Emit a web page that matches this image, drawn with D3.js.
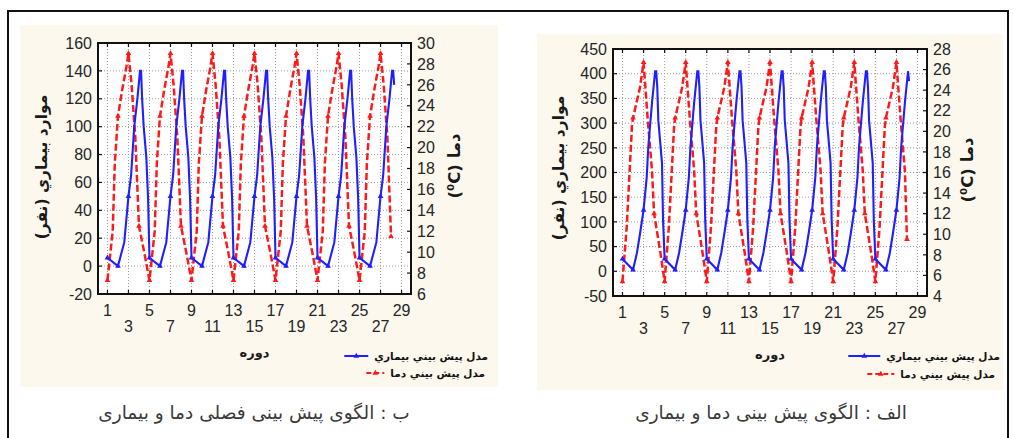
<!DOCTYPE html>
<html><head><meta charset="utf-8">
<script src="https://cdn.jsdelivr.net/npm/d3@7"></script>
<style>body{margin:0;background:#fff}svg{display:block}</style>
</head><body>
<svg id="c" width="1014" height="438"></svg>
<script>
// ---------- tick labels ----------
const xTicks = [1,3,5,7,9,11,13,15,17,19,21,23,25,27,29];
const yLeftTicksB = [-20,0,20,40,60,80,100,120,140,160];
const yRightTicksB = [6,8,10,12,14,16,18,20,22,24,26,28,30];
const yLeftTicksA = [-50,0,50,100,150,200,250,300,350,400,450];
const yRightTicksA = [4,6,8,10,12,14,16,18,20,22,24,26,28];

// ---------- texts ----------
const yLabelLeft = "موارد بيماري (نفر)";
const yLabelRight = "دما (⁰C)";
const xLabel = "دوره";
const legendDisease = "مدل پيش بيني بيماري";
const legendTemp = "مدل پيش بيني دما";
const captionB = "ب : الگوی پیش بینی فصلی دما و بیماری";
const captionA = "الف : الگوی پیش بینی دما و بیماری";

// ---------- chart ب (left): seasonal model ----------
const diseaseXB = [
 1,2,2.6,3,3.25,3.55,3.85,4.1,4.2,4.3,4.45,4.7,4.87,
 5,6,6.6,7,7.25,7.55,7.85,8.1,8.2,8.3,8.45,8.7,8.87,
 9,10,10.6,11,11.25,11.55,11.85,12.1,12.2,12.3,12.45,12.7,12.87,
 13,14,14.6,15,15.25,15.55,15.85,16.1,16.2,16.3,16.45,16.7,16.87,
 17,18,18.6,19,19.25,19.55,19.85,20.1,20.2,20.3,20.45,20.7,20.87,
 21,22,22.6,23,23.25,23.55,23.85,24.1,24.2,24.3,24.45,24.7,24.87,
 25,26,26.6,27,27.25,27.55,27.85,28.1,28.2,28.3];
const diseaseB = [
 6,0,17,50,65,100,120,140,140,120,100,78,48,
 6,0,17,50,65,100,120,140,140,120,100,78,48,
 6,0,17,50,65,100,120,140,140,120,100,78,48,
 6,0,17,50,65,100,120,140,140,120,100,78,48,
 6,0,17,50,65,100,120,140,140,120,100,78,48,
 6,0,17,50,65,100,120,140,140,120,100,78,48,
 6,0,17,50,65,100,120,140,140,130];
const tempXB = [
 1,1.5,1.7,2,2.4,2.8,3,3.3,3.65,4,4.5,
 5,5.5,5.7,6,6.4,6.8,7,7.3,7.65,8,8.5,
 9,9.5,9.7,10,10.4,10.8,11,11.3,11.65,12,12.5,
 13,13.5,13.7,14,14.4,14.8,15,15.3,15.65,16,16.5,
 17,17.5,17.7,18,18.4,18.8,19,19.3,19.65,20,20.5,
 21,21.5,21.7,22,22.4,22.8,23,23.3,23.65,24,24.5,
 25,25.5,25.7,26,26.4,26.8,27,27.3,27.65,28];
const tempB = [
 7.3,12,18.5,23,25.5,27.7,29,26,21,12.5,10,
 7.3,12,18.5,23,25.5,27.7,29,26,21,12.5,10,
 7.3,12,18.5,23,25.5,27.7,29,26,21,12.5,10,
 7.3,12,18.5,23,25.5,27.7,29,26,21,12.5,10,
 7.3,12,18.5,23,25.5,27.7,29,26,21,12.5,10,
 7.3,12,18.5,23,25.5,27.7,29,26,21,12.5,10,
 7.3,12,18.5,23,25.5,27.7,29,26,21,11.5];

// ---------- chart الف (right) ----------
const diseaseXA = [
 1,2,2.37,2.67,3,3.3,3.45,3.8,4.1,4.2,4.3,4.4,4.75,4.85,
 5,6,6.37,6.67,7,7.3,7.45,7.8,8.1,8.2,8.3,8.4,8.75,8.85,
 9,10,10.37,10.67,11,11.3,11.45,11.8,12.1,12.2,12.3,12.4,12.75,12.85,
 13,14,14.37,14.67,15,15.3,15.45,15.8,16.1,16.2,16.3,16.4,16.75,16.85,
 17,18,18.37,18.67,19,19.3,19.45,19.8,20.1,20.2,20.3,20.4,20.75,20.85,
 21,22,22.37,22.67,23,23.3,23.45,23.8,24.1,24.2,24.3,24.4,24.75,24.85,
 25,26,26.37,26.67,27,27.3,27.45,27.8,28.1,28.2];
const diseaseA = [
 25,3,37,77,124,190,252,341,405,405,373,306,219,104,
 25,3,37,77,124,190,252,341,405,405,373,306,219,104,
 25,3,37,77,124,190,252,341,405,405,373,306,219,104,
 25,3,37,77,124,190,252,341,405,405,373,306,219,104,
 25,3,37,77,124,190,252,341,405,405,373,306,219,104,
 25,3,37,77,124,190,252,341,405,405,373,306,219,104,
 25,3,37,77,124,190,252,341,405,385];
const tempXA = [
 1,1.4,1.9,2,2.67,3,3.4,3.8,4,4.6,
 5,5.4,5.9,6,6.67,7,7.4,7.8,8,8.6,
 9,9.4,9.9,10,10.67,11,11.4,11.8,12,12.6,
 13,13.4,13.9,14,14.67,15,15.4,15.8,16,16.6,
 17,17.4,17.9,18,18.67,19,19.4,19.8,20,20.6,
 21,21.4,21.9,22,22.67,23,23.4,23.8,24,24.6,
 25,25.4,25.9,26,26.67,27,27.4,27.8,28];
const tempA = [
 5.4,10.7,20.5,21.3,24.3,26.7,21.1,16.2,12,8.2,
 5.4,10.7,20.5,21.3,24.3,26.7,21.1,16.2,12,8.2,
 5.4,10.7,20.5,21.3,24.3,26.7,21.1,16.2,12,8.2,
 5.4,10.7,20.5,21.3,24.3,26.7,21.1,16.2,12,8.2,
 5.4,10.7,20.5,21.3,24.3,26.7,21.1,16.2,12,8.2,
 5.4,10.7,20.5,21.3,24.3,26.7,21.1,16.2,12,8.2,
 5.4,10.7,20.5,21.3,24.3,26.7,21.1,16.2,9.5];

const BLUE = "#1f1fff", RED = "#ff1a1a", CREAM = "#fcf8ee";
const svg = d3.select("#c");
const NUMFONT = "'Liberation Sans', Arial, sans-serif";
const ARFONT = "'DejaVu Sans', sans-serif";

function textWidth(sel){ return sel.node().getComputedTextLength(); }

function drawChart(c){
  const g = svg.append("g");
  g.append("rect").attr("x",c.panel[0]).attr("y",c.panel[1])
    .attr("width",c.panel[2]-c.panel[0]).attr("height",c.panel[3]-c.panel[1]).attr("fill",CREAM);
  const x = d3.scaleLinear().domain([0.1,29.9]).range([c.left,c.right]);
  const yL = d3.scaleLinear().domain(c.yLDomain).range([c.bottom,c.top]);
  const yR = d3.scaleLinear().domain(c.yRDomain).range([c.bottom,c.top]);
  g.append("rect").attr("x",c.left).attr("y",c.top).attr("width",c.right-c.left)
    .attr("height",c.bottom-c.top).attr("fill","#fff");
  // grid
  g.append("g").selectAll("line").data(c.yLTicks.slice(1,-1)).join("line")
    .attr("x1",c.left).attr("x2",c.right).attr("y1",d=>yL(d)).attr("y2",d=>yL(d))
    .attr("stroke","#9a9a9a").attr("stroke-width",1).attr("stroke-dasharray","1,2");
  g.append("g").selectAll("line").data(xTicks).join("line")
    .attr("y1",c.top).attr("y2",c.bottom).attr("x1",d=>x(d)).attr("x2",d=>x(d))
    .attr("stroke","#9a9a9a").attr("stroke-width",1).attr("stroke-dasharray","1,2");
  // series
  const dis = c.disX.map((v,i)=>[v,c.dis[i]]);
  const tmp = c.tmpX.map((v,i)=>[v,c.tmp[i]]);
  g.append("path").datum(tmp).attr("fill","none").attr("stroke",RED).attr("stroke-width",2.5)
    .attr("stroke-dasharray","7,3")
    .attr("d",d3.line().x(d=>x(d[0])).y(d=>yR(d[1])));
  g.append("path").datum(dis).attr("fill","none").attr("stroke",BLUE).attr("stroke-width",2.1)
    .attr("d",d3.line().x(d=>x(d[0])).y(d=>yL(d[1])));
  const tri = d3.symbol().type(d3.symbolTriangle).size(14);
  g.append("g").selectAll("path").data(tmp.filter(d=>Number.isInteger(d[0]))).join("path")
    .attr("d",tri).attr("transform",d=>`translate(${x(d[0])},${yR(d[1])})`).attr("fill",RED);
  g.append("g").selectAll("path").data(dis.filter(d=>Number.isInteger(d[0]))).join("path")
    .attr("d",tri).attr("transform",d=>`translate(${x(d[0])},${yL(d[1])})`).attr("fill",BLUE);
  // frame
  g.append("rect").attr("x",c.left).attr("y",c.top).attr("width",c.right-c.left)
    .attr("height",c.bottom-c.top).attr("fill","none").attr("stroke","#111").attr("stroke-width",2);
  // ticks (inside)
  const tk = g.append("g").attr("stroke","#111").attr("stroke-width",1.2);
  tk.selectAll(".tl").data(c.yLTicks).join("line").attr("x1",c.left).attr("x2",c.left+4)
    .attr("y1",d=>yL(d)).attr("y2",d=>yL(d));
  tk.selectAll(".tr").data(c.yRTicks).join("line").attr("x1",c.right-4).attr("x2",c.right)
    .attr("y1",d=>yR(d)).attr("y2",d=>yR(d));
  tk.selectAll(".tb").data(xTicks).join("line").attr("x1",d=>x(d)).attr("x2",d=>x(d))
    .attr("y1",c.bottom-4).attr("y2",c.bottom);
  tk.selectAll(".tt").data(xTicks).join("line").attr("x1",d=>x(d)).attr("x2",d=>x(d))
    .attr("y1",c.top).attr("y2",c.top+4);
  // tick labels
  const lab = g.append("g").attr("font-family",NUMFONT).attr("font-size",16).attr("fill","#262626");
  lab.selectAll(".yl").data(c.yLTicks).join("text").attr("x",c.left-6).attr("y",d=>yL(d)+5.7)
    .attr("text-anchor","end").text(d=>d);
  lab.selectAll(".yr").data(c.yRTicks).join("text").attr("x",c.right+6).attr("y",d=>yR(d)+5.7)
    .attr("text-anchor","start").text(d=>d);
  lab.selectAll(".xl").data(xTicks).join("text").attr("x",d=>x(d))
    .attr("y",(d,i)=>c.bottom+(i%2===0?21.5:37.5)).attr("text-anchor","middle").text(d=>d);
  // axis titles
  const cx = (c.left+c.right)/2;
  g.append("text").attr("font-family",ARFONT).attr("font-weight","bold").attr("font-size",13)
    .attr("direction","rtl").attr("text-anchor","middle").attr("fill","#1a1a1a")
    .attr("x",cx).attr("y",c.bottom+63).text(xLabel);
  g.append("text").attr("font-family",ARFONT).attr("font-weight","bold").attr("font-size",15.5)
    .attr("direction","rtl").attr("text-anchor","middle").attr("fill","#1a1a1a")
    .attr("transform",`translate(${c.yLabL[0]},${c.yLabL[1]}) rotate(-90)`).text(yLabelLeft);
  g.append("text").attr("font-family",ARFONT).attr("font-weight","bold").attr("font-size",16.5)
    .attr("direction","rtl").attr("text-anchor","middle").attr("fill","#1a1a1a")
    .attr("transform",`translate(${c.yLabR[0]},${c.yLabR[1]}) rotate(-90)`).text(yLabelRight);
  // legend
  const rows = [
    {t:legendDisease, col:BLUE, dash:null, right:c.leg[0], y:c.leg[1], len:c.leg[4]},
    {t:legendTemp, col:RED, dash:"5,3", right:c.leg[2], y:c.leg[3], len:c.leg[5]}];
  rows.forEach(r=>{
    const t = g.append("text").attr("font-family",ARFONT).attr("font-weight","bold")
      .attr("font-size",10.5).attr("direction","rtl").attr("text-anchor","middle")
      .attr("fill","#111").attr("y",r.y+4).text(r.t);
    const w = textWidth(t);
    t.attr("x",r.right-w/2);
    const x0 = r.right-w-6-r.len, x1 = r.right-w-6;
    g.append("line").attr("x1",x0).attr("x2",x1).attr("y1",r.y).attr("y2",r.y)
      .attr("stroke",r.col).attr("stroke-width",2).attr("stroke-dasharray",r.dash);
    g.append("path").attr("d",tri).attr("transform",`translate(${(x0+x1)/2},${r.y})`).attr("fill",r.col);
  });
  // caption
  g.append("text").attr("font-family",ARFONT).attr("font-size",18.5).attr("fill","#3a3a3a")
    .attr("direction","rtl").attr("text-anchor","middle").attr("x",c.capX).attr("y",419).text(c.caption);
}

drawChart({panel:[20,25,498,387], left:98, right:411, top:43, bottom:294,
  yLDomain:[-20,160], yRDomain:[6,30], yLTicks:yLeftTicksB, yRTicks:yRightTicksB,
  disX:diseaseXB, dis:diseaseB, tmpX:tempXB, tmp:tempB,
  yLabL:[47,167], yLabR:[460,166], leg:[488,356,485,373,24,18], capX:254, caption:captionB});
drawChart({panel:[537,34,1003,390], left:613, right:927, top:49, bottom:296,
  yLDomain:[-50,450], yRDomain:[4,28], yLTicks:yLeftTicksA, yRTicks:yRightTicksA,
  disX:diseaseXA, dis:diseaseA, tmpX:tempXA, tmp:tempA,
  yLabL:[564,168], yLabR:[973,170], leg:[1000,356,995,374,32,27], capX:771, caption:captionA});

svg.append("rect").attr("x",8).attr("y",11).attr("width",1000).attr("height",445)
  .attr("fill","none").attr("stroke","#111").attr("stroke-width",2);
</script>
</body></html>
